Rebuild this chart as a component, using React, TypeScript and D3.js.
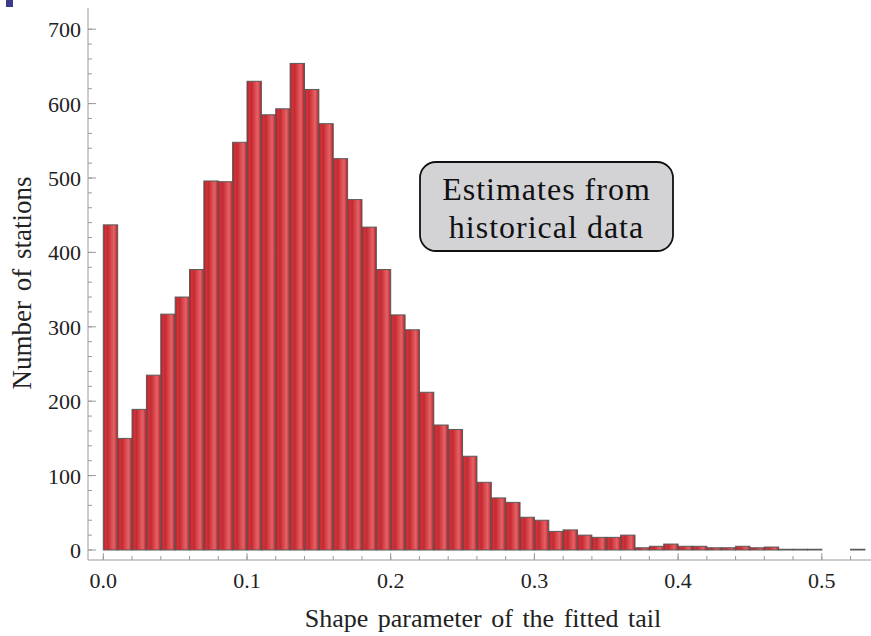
import React from "react";
import * as d3 from "d3";

// Histogram of fitted tail shape parameters, bins of width 0.01 starting at 0.00
const binStarts: number[] = [
  0.0, 0.01, 0.02, 0.03, 0.04, 0.05, 0.06, 0.07, 0.08, 0.09,
  0.1, 0.11, 0.12, 0.13, 0.14, 0.15, 0.16, 0.17, 0.18, 0.19,
  0.2, 0.21, 0.22, 0.23, 0.24, 0.25, 0.26, 0.27, 0.28, 0.29,
  0.3, 0.31, 0.32, 0.33, 0.34, 0.35, 0.36, 0.37, 0.38, 0.39,
  0.4, 0.41, 0.42, 0.43, 0.44, 0.45, 0.46, 0.47, 0.48, 0.49,
  0.5, 0.51, 0.52,
];
const counts: number[] = [
  437, 150, 189, 235, 317, 340, 377, 496, 495, 548,
  630, 585, 593, 654, 619, 573, 526, 471, 434, 377,
  316, 296, 212, 168, 162, 126, 91, 70, 64, 44,
  40, 25, 27, 20, 17, 17, 20, 3, 5, 8,
  5, 5, 3, 3, 5, 3, 4, 1, 1, 1,
  0, 0, 1,
];
const binWidth = 0.01;

const xMajorTicks: number[] = [0, 0.1, 0.2, 0.3, 0.4, 0.5];
const xTickLabels: string[] = ["0.0", "0.1", "0.2", "0.3", "0.4", "0.5"];
const yMajorTicks: number[] = [0, 100, 200, 300, 400, 500, 600, 700];

const xTitle = "Shape parameter of the fitted tail";
const yTitle = "Number of stations";
const noteLines: string[] = ["Estimates from", "historical data"];

const W = 871;
const H = 636;

export default function App() {
  const x = d3.scaleLinear().domain([0, 0.5]).range([103.3, 821.8]);
  const y = d3.scaleLinear().domain([0, 700]).range([550, 29.2]);

  const axisX = 88; // vertical frame line
  const axisY = 560; // horizontal frame line
  const axisColor = "#9a9a9a";
  const font = "'Liberation Serif', 'Times New Roman', serif";

  const xMinor = d3.range(0, 27).map((i) => i * 0.02).filter((v) => x(v) < W);
  const yMinor = d3.range(0, 36).map((i) => i * 20);

  return (
    <svg
      width={W}
      height={H}
      style={{ position: "absolute", left: 0, top: 0, background: "#fff" }}
    >
      <defs>
        <linearGradient id="barShade" x1="0" x2="1" y1="0" y2="0">
          <stop offset="0" stopColor="#a91c23" />
          <stop offset="0.15" stopColor="#cf343b" />
          <stop offset="0.32" stopColor="#c42a31" />
          <stop offset="0.55" stopColor="#d9494e" />
          <stop offset="0.75" stopColor="#e26367" />
          <stop offset="0.9" stopColor="#cc3a40" />
          <stop offset="1" stopColor="#a61c22" />
        </linearGradient>
      </defs>

      <rect x={6} y={0} width={7} height={7} fill="#3b3b8c" />

      {/* bars */}
      {counts.map((c, i) =>
        c > 0 ? (
          <rect
            key={i}
            x={x(binStarts[i])}
            y={y(c)}
            width={x(binStarts[i] + binWidth) - x(binStarts[i])}
            height={y(0) - y(c)}
            fill="url(#barShade)"
            stroke="#5a5a5a"
            strokeWidth={1}
          />
        ) : null
      )}

      {/* frame axes */}
      <line x1={axisX} x2={axisX} y1={8} y2={axisY} stroke={axisColor} strokeWidth={1} />
      <line x1={axisX} x2={W} y1={axisY} y2={axisY} stroke={axisColor} strokeWidth={1} />

      {/* y ticks */}
      {yMinor.map((v) => (
        <line key={"ym" + v} x1={axisX} x2={axisX + 4} y1={y(v)} y2={y(v)} stroke={axisColor} />
      ))}
      {yMajorTicks.map((v) => (
        <g key={"yM" + v}>
          <line x1={axisX} x2={axisX + 8} y1={y(v)} y2={y(v)} stroke={axisColor} />
          <text
            x={81}
            y={y(v) + 8}
            textAnchor="end"
            fontFamily={font}
            fontSize={22}
            fill="#222"
          >
            {v}
          </text>
        </g>
      ))}

      {/* x ticks */}
      {xMinor.map((v, i) => (
        <line key={"xm" + i} x1={x(v)} x2={x(v)} y1={axisY} y2={axisY - 4} stroke={axisColor} />
      ))}
      {xMajorTicks.map((v, i) => (
        <g key={"xM" + i}>
          <line x1={x(v)} x2={x(v)} y1={axisY} y2={axisY - 7} stroke={axisColor} />
          <text
            x={x(v)}
            y={588}
            textAnchor="middle"
            fontFamily={font}
            fontSize={22}
            fill="#222"
          >
            {xTickLabels[i]}
          </text>
        </g>
      ))}

      {/* axis titles */}
      <text
        x={483}
        y={627}
        textAnchor="middle"
        fontFamily={font}
        fontSize={26}
        wordSpacing={3}
        fill="#222"
      >
        {xTitle}
      </text>
      <text
        transform={`translate(31, 283) rotate(-90)`}
        textAnchor="middle"
        fontFamily={font}
        fontSize={27}
        wordSpacing={3}
        fill="#222"
      >
        {yTitle}
      </text>

      {/* annotation */}
      <rect
        x={420}
        y={162}
        width={253}
        height={89}
        rx={16}
        ry={16}
        fill="#d3d3d6"
        stroke="#111"
        strokeWidth={1.8}
      />
      {noteLines.map((t, i) => (
        <text
          key={t}
          x={546.5}
          y={200 + i * 38}
          textAnchor="middle"
          fontFamily={font}
          fontSize={32}
          letterSpacing={1}
          fill="#111"
        >
          {t}
        </text>
      ))}
    </svg>
  );
}
